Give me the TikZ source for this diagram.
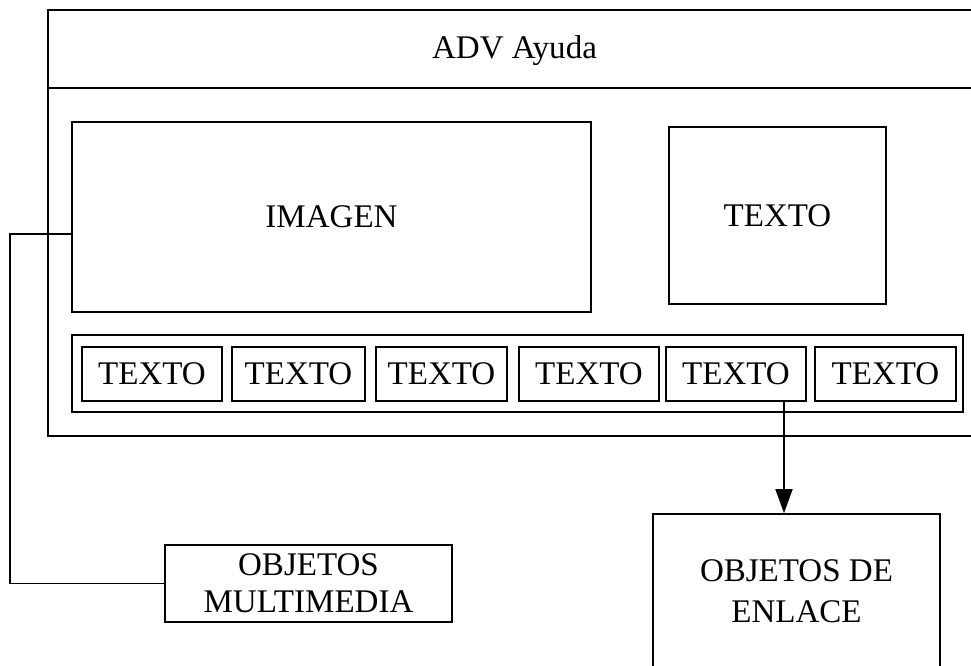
\documentclass[tikz,border=0pt]{standalone}
\usepackage{fontspec}
\setmainfont{Liberation Serif}
\usepackage{tikz}
\usetikzlibrary{arrows.meta, positioning}

\tikzset{
  box/.style={draw, line width=1pt, inner sep=0pt, align=center},
  flecha/.style={line width=1pt, -{Triangle[width=0.34cm, length=0.48cm]}}
}

\begin{document}
\begin{tikzpicture}[x=0.02cm, y=-0.02cm, line width=1pt,
    every node/.style={font=\fontsize{18.8}{22}\selectfont}]
  \useasboundingbox (0,0) rectangle (971,666);
  \clip (0,0) rectangle (971,666);
  \draw (48,10) rectangle (1000,436);             % Fenster
  \draw (48,88) -- (1000,88);
  \node[anchor=base] (titulo) at (514.5,58) {ADV Ayuda};
  \node[box, minimum width=10.38cm, minimum height=3.8cm] (imagen) at (331.5,217) {IMAGEN};
  \node[box, minimum width=4.34cm, minimum height=3.54cm] (texto) at (777.5,215.5) {TEXTO};
  \node[box, minimum width=17.82cm, minimum height=1.54cm] (barra) at (517.5,373.5) {};
  \foreach \i/\cx/\w in {1/152/140, 2/298.5/133, 3/441.5/131, 4/589/140, 5/736/140, 6/885.5/141}
    \node[box, minimum width=\w*0.02cm, minimum height=1.08cm] (t\i) at (\cx,374) {TEXTO};
  \node[box, minimum width=5.74cm, minimum height=1.54cm,
        font=\fontsize{18.8}{21.1}\selectfont] (multimedia) at (308.5,583.5) {OBJETOS\\MULTIMEDIA};
  \node[box, minimum width=5.74cm, minimum height=3.08cm,
        font=\fontsize{18.8}{23.3}\selectfont] (enlace) at (796.5,591) {OBJETOS DE\\ENLACE};
  % Verbindungen
  \coordinate (codo) at (10,234);
  \draw (imagen.west |- codo) -- (codo) |- (multimedia.west);
  \draw[flecha] (t5.south -| 784,0) -- (enlace.north -| 784,0);
\end{tikzpicture}
\end{document}
